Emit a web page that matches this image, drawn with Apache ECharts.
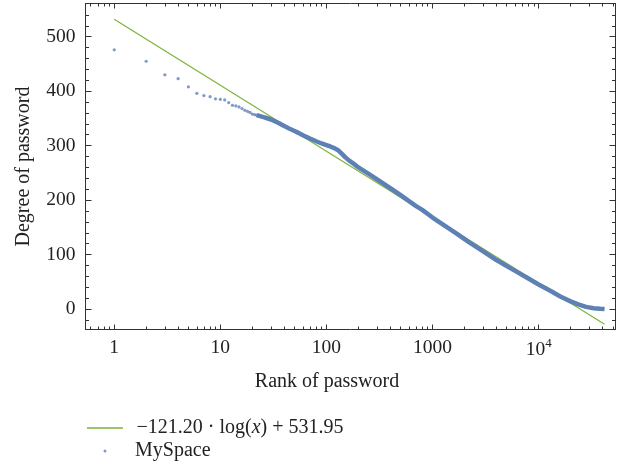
<!DOCTYPE html>
<html><head><meta charset="utf-8">
<script src="https://cdn.jsdelivr.net/npm/echarts@6/dist/echarts.min.js"></script>
<style>html,body{margin:0;padding:0;background:#fff}#c{width:620px;height:470px}</style>
</head><body><div id="c"></div>
<script>
// ---- data ----
const sparseRanks = [1,2,3,4,5,6,7,8,9,10,11,12,13,14,15,16,17,18,19,20,21,22,23,24,25,26,27,28,29,30,31,32,33,34,35,36,37,38,39,40];
const sparseDegrees = [476,455,430,423,408,396,392,390,386,385,384,379,374,373,371,368,365,363,361,358,357,356,355,354,353,352,351,350,349,348,347,346,345,344,342,341,340,339,337,336];
const denseRanks = [22,26,30,35,40,45,50,55,60,70,80,90,100,110,120,130,140,150,165,180,200,250,300,400,500,600,700,800,1000,1300,1700,2200,3000,4000,5000,6000,8000,10000,13000,16000,20000,24000,28000,33000,38000,41800];
const denseDegrees = [356,352,348,342,336,331,327,323,319,313,308,304,301,298,295,291,285,279,272,267,260,248,238,222,209,198,189,182,168,153,138,123,106,90,79,70,56,45,33,23,14,8,4,1.5,0.5,0];
const fitRanks = [1, 41800];
const fitDegrees = [531.95, -28.0];
const xMajorTicks = [1,10,100,1000,10000];
const xMinorTicks = [0.6,0.7,0.8,0.9,2,3,4,5,6,7,8,9,20,30,40,50,60,70,80,90,200,300,400,500,600,700,800,900,2000,3000,4000,5000,6000,7000,8000,9000,20000,30000,40000,50000];
const yMajorTicks = [0,100,200,300,400,500];
const yMinorTicks = [-20,20,40,60,80,120,140,160,180,220,240,260,280,320,340,360,380,420,440,460,480,520,540];
const fitLabel = '−121.20 · log(x) + 531.95';
const seriesLabel = 'MySpace';
const xTitle = 'Rank of password';
const yTitle = 'Degree of password';

const X_MIN = 0.536, X_MAX = 53000, Y_MIN = -37.6, Y_MAX = 561;
const FONT = 'Liberation Serif';
const FRAME = '#333';
const BLUE = '#5E81B5', GREEN = '#7DB33A';

function pairs(xs, ys){ return xs.map((x,i)=>[x, ys[i]]); }

function xAx(pos, ticks, len, withLabels){
  const a = {
    type:'log', logBase:10, min:X_MIN, max:X_MAX, position:pos,
    axisLine:{show: len>4, onZero:false, lineStyle:{color:FRAME,width:1}},
    axisTick:{show:true, inside:true, length:len, customValues:ticks, lineStyle:{color:FRAME,width:1}},
    axisLabel:{show:false}, splitLine:{show:false}, minorTick:{show:false}, minorSplitLine:{show:false}
  };
  if (withLabels){
    a.axisLabel = {show:true, customValues:xMajorTicks, margin:8, color:'#222', fontFamily:FONT, fontSize:19.5,
      formatter: v => v===10000 ? '{b|10}{s|4}' : String(v),
      rich:{ b:{fontFamily:FONT,fontSize:19.5,color:'#222'}, s:{fontFamily:FONT,fontSize:13,color:'#222',padding:[0,0,12,0]} }
    };
    a.name = xTitle; a.nameLocation='middle'; a.nameGap=42;
    a.nameTextStyle = {fontFamily:FONT,fontSize:20,color:'#222',padding:[0,47,0,0]};
  }
  return a;
}
function yAx(pos, ticks, len, withLabels){
  const a = {
    type:'value', min:Y_MIN, max:Y_MAX, position:pos,
    axisLine:{show: len>4, onZero:false, lineStyle:{color:FRAME,width:1}},
    axisTick:{show:true, inside:true, length:len, customValues:ticks, lineStyle:{color:FRAME,width:1}},
    axisLabel:{show:false}, splitLine:{show:false}
  };
  if (withLabels){
    a.axisLabel = {show:true, customValues:yMajorTicks, margin:10, color:'#222', fontFamily:FONT, fontSize:19.5};
    a.name = yTitle; a.nameLocation='middle'; a.nameGap=52;
    a.nameTextStyle = {fontFamily:FONT,fontSize:20,color:'#222'};
  }
  return a;
}

const chart = echarts.init(document.getElementById('c'), null, {renderer:'canvas'});
chart.setOption({
  animation:false,
  backgroundColor:'#fff',
  grid:{left:85.5, top:3.5, width:530, height:326},
  xAxis:[ xAx('bottom', xMajorTicks, 5, true), xAx('bottom', xMinorTicks, 3, false),
          xAx('top', xMajorTicks, 5, false), xAx('top', xMinorTicks, 3, false) ],
  yAxis:[ yAx('left', yMajorTicks, 6, true), yAx('left', yMinorTicks, 3.5, false),
          yAx('right', yMajorTicks, 6, false), yAx('right', yMinorTicks, 3.5, false) ],
  legend:[
    { data:[{name:fitLabel, icon:'rect'}], left:87, top:418, padding:0, itemWidth:36, itemHeight:1.3,
      itemStyle:{color:GREEN}, textStyle:{fontFamily:FONT,fontSize:20,color:'#222',padding:[0,0,0,8.5],
      rich:{i:{fontFamily:FONT,fontSize:20,color:'#222',fontStyle:'italic'}}},
      formatter: n => n.replace('(x)','({i|x})'), selectedMode:false },
    { data:[{name:seriesLabel, icon:'circle'}], left:103.5, top:441, padding:0, itemWidth:3, itemHeight:3,
      itemStyle:{color:BLUE}, textStyle:{fontFamily:FONT,fontSize:20,color:'#222',padding:[0,0,0,23.5]}, selectedMode:false }
  ],
  series:[
    { name:fitLabel, type:'line', xAxisIndex:0, yAxisIndex:0, data:pairs(fitRanks, fitDegrees),
      symbol:'none', lineStyle:{color:GREEN, width:1.2}, itemStyle:{color:GREEN}, z:2 },
    { name:seriesLabel, type:'scatter', xAxisIndex:0, yAxisIndex:0, data:pairs(sparseRanks, sparseDegrees),
      symbolSize:3.2, itemStyle:{color:BLUE}, z:3 },
    { name:seriesLabel+' (dense)', type:'line', xAxisIndex:0, yAxisIndex:0, data:pairs(denseRanks, denseDegrees),
      symbol:'none', lineStyle:{color:BLUE, width:4.5}, itemStyle:{color:BLUE}, z:3 }
  ]
});
</script></body></html>
